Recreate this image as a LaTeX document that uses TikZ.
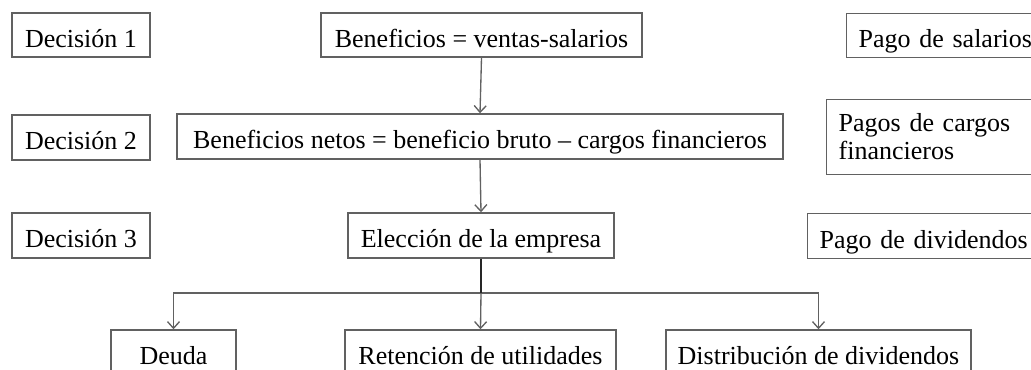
\documentclass[tikz,border=0pt]{standalone}
\usepackage{fontspec}
\setmainfont{Liberation Serif}
\usetikzlibrary{arrows.meta}
\newlength\pxl
\setlength\pxl{0.75pt}
\tikzset{
  box/.style={draw=black!62, line width=1.1pt, rectangle, inner sep=0pt, align=center,
    font=\fontsize{19.5}{21}\selectfont, text height=18pt, text depth=0pt},
  leftbox/.style={box, anchor=north west, align=left, inner xsep=12*\pxl, inner ysep=0pt},
  arr/.style={draw=black!62, line width=1.0pt, -{Straight Barb[length=5pt,width=9pt]}},
  trunk/.style={draw=black!85, line width=1.6pt}
}
\begin{document}
\begin{tikzpicture}[x=0.75pt,y=-0.75pt]
\useasboundingbox (0,0) rectangle (1031,369);
\clip (0,0) rectangle (1031,369);
% left column
\node[box, minimum width=138*\pxl, minimum height=44*\pxl] (d1) at (81,35) {Decisión 1};
\node[box, minimum width=138*\pxl, minimum height=45*\pxl] (d2) at (81,137.5) {Decisión 2};
\node[box, minimum width=138*\pxl, minimum height=45*\pxl] (d3) at (81,235.5) {Decisión 3};
% centre column
\node[box, minimum width=321*\pxl, minimum height=44*\pxl] (b1) at (481.5,35) {Beneficios = ventas-salarios};
\node[box, minimum width=606*\pxl, minimum height=45*\pxl] (b2) at (480,136.5) {Beneficios netos = beneficio bruto – cargos financieros};
\node[box, minimum width=266*\pxl, minimum height=45*\pxl] (el) at (481,235.5) {Elección de la empresa};
% right column
\node[leftbox, text width=200*\pxl, minimum height=44*\pxl] (ps) at (846,13) {Pago de salarios};
\node[leftbox, text width=220*\pxl, minimum height=75*\pxl, font=\fontsize{19.5}{21}\selectfont, text height=15pt, text depth=24pt] (pc) at (826,99) {Pagos de cargos\\financieros};
\node[leftbox, text width=220*\pxl, minimum height=45*\pxl] (pd) at (807,213) {Pago de dividendos};
% bottom row
\node[box, minimum width=125*\pxl, minimum height=44*\pxl] (de) at (173.5,352) {Deuda};
\node[box, minimum width=271*\pxl, minimum height=44*\pxl] (re) at (480.5,352) {Retención de utilidades};
\node[box, minimum width=305*\pxl, minimum height=44*\pxl] (di) at (818.5,352) {Distribución de dividendos};
% connectors
\coordinate (j) at (481,293);
\draw[arr] (b1.south) -- (b2.north);
\draw[arr] (b2.south) -- (el.north);
\draw[arr] (j) -| (de.north);
\draw[arr] (j) -| (di.north);
\draw[arr] (j) -- (re.north);
\draw[trunk] (el.south) -- (j);
\end{tikzpicture}
\end{document}
